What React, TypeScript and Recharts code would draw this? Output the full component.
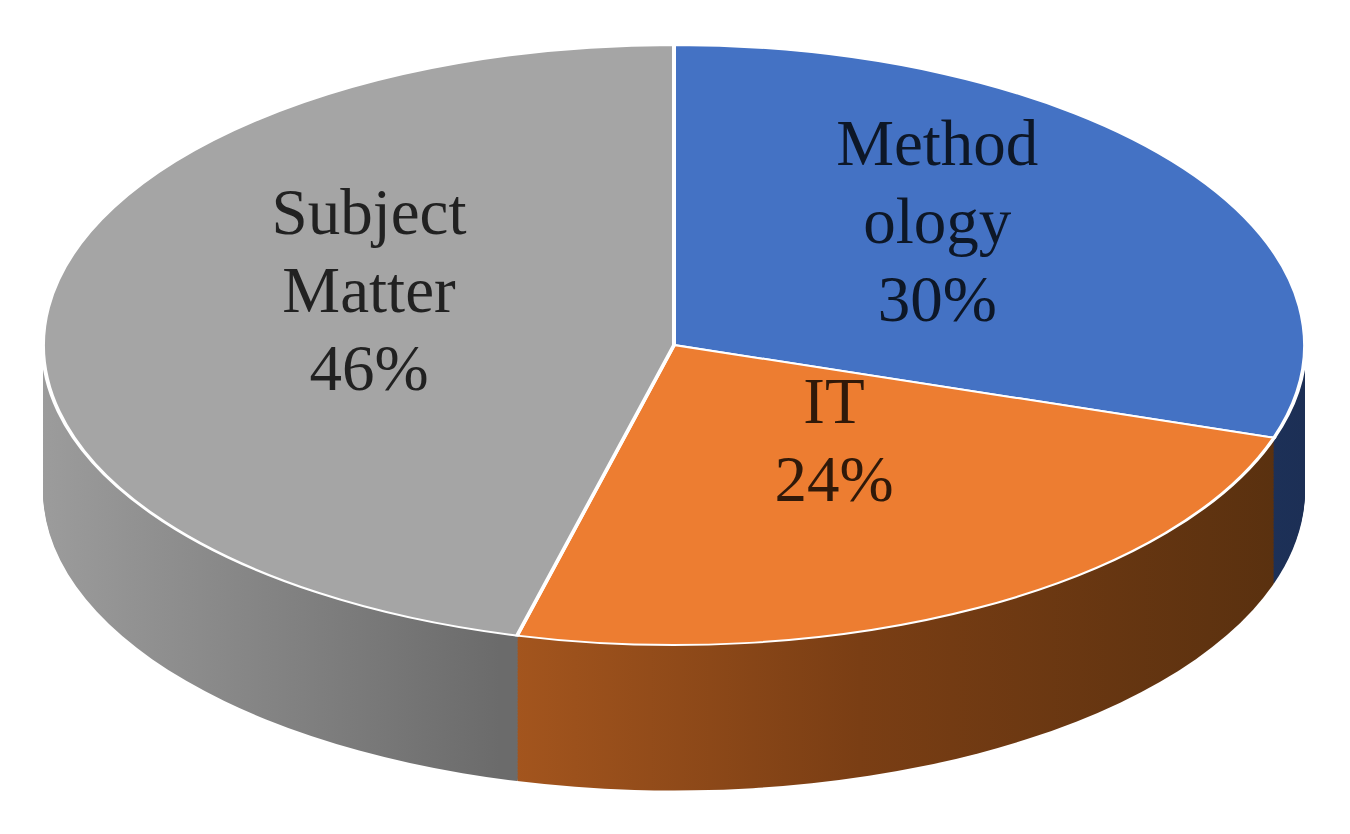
import { Cell, Pie, PieChart } from "recharts";

// data
const categories = ["Methodology", "IT", "Subject Matter"];
const shares = [30, 24, 46];
// how the category names wrap inside the slices
const labelLines = [["Method", "ology"], ["IT"], ["Subject", "Matter"]];

const TOP_COLORS = ["#4472C4", "#ED7D31", "#A5A5A5"];
const SIDE_GRADS = ["sideBlue", "sideOrange", "sideGray"];

const data = categories.map((name, i) => ({
  name,
  value: shares[i],
  lines: labelLines[i],
}));

// fake 3D: circle pie squashed vertically, with stacked copies for the rim
const W = 1350;
const CX = 674;
const RX = 631;
const RY = 300;
const K = RY / RX;
const CY = 345; // page px
const DEPTH = 145; // page px
const STEP = 1.5; // page px between rim layers
const LABEL_LIFT = -36; // page px, stands in for Excel's perspective
const FONT = 65;
const LINE_H = 78;

const cyPre = CY / K;
const H_PRE = Math.ceil((CY + DEPTH + RY + 12) / K);
const layerCount = Math.round(DEPTH / STEP);
const offsets = Array.from({ length: layerCount }, (_, i) => ((layerCount - i) * STEP) / K);

const RAD = Math.PI / 180;

function SliceLabel(props: any) {
  const { cx, cy, midAngle, outerRadius, payload, percent } = props;
  const r = outerRadius * 0.5;
  const x = cx + r * Math.cos(-midAngle * RAD) + 8;
  const y = cy + r * Math.sin(-midAngle * RAD) + LABEL_LIFT / K;
  const lines = [...(payload.lines as string[]), `${Math.round(percent * 100)}%`];
  const n = lines.length;
  return (
    <g transform={`translate(${x},${y}) scale(1,${1 / K})`}>
      <text
        textAnchor="middle"
        fontFamily="'Liberation Serif', 'Times New Roman', serif"
        fontSize={FONT}
        fill="#000"
        fillOpacity={0.8}
      >
        {lines.map((l, i) => (
          <tspan key={i} x={0} y={(i - (n - 1) / 2) * LINE_H + 22}>
            {l}
          </tspan>
        ))}
      </text>
    </g>
  );
}

export default function App() {
  return (
    <div
      style={{
        position: "fixed",
        left: 0,
        top: 0,
        width: W,
        height: 834,
        background: "#fff",
        overflow: "hidden",
      }}
    >
      <div style={{ transform: `scaleY(${K})`, transformOrigin: "0 0", width: W, height: H_PRE }}>
        <PieChart width={W} height={H_PRE} margin={{ top: 0, right: 0, bottom: 0, left: 0 }}>
          <defs>
            <linearGradient id="sideGray" gradientUnits="userSpaceOnUse" x1={40} y1={0} x2={500} y2={0}>
              <stop offset="0%" stopColor="#9c9c9c" />
              <stop offset="100%" stopColor="#6b6b6b" />
            </linearGradient>
            <linearGradient id="sideOrange" gradientUnits="userSpaceOnUse" x1={500} y1={0} x2={1300} y2={0}>
              <stop offset="0%" stopColor="#a5561e" />
              <stop offset="45%" stopColor="#7a3e14" />
              <stop offset="100%" stopColor="#58300f" />
            </linearGradient>
            <linearGradient id="sideBlue" gradientUnits="userSpaceOnUse" x1={40} y1={0} x2={1310} y2={0}>
              <stop offset="0%" stopColor="#2f5597" />
              <stop offset="100%" stopColor="#1c2f55" />
            </linearGradient>
          </defs>
          {offsets.map((off, li) => (
            <Pie
              key={`side-${li}`}
              data={data}
              dataKey="value"
              nameKey="name"
              cx={CX}
              cy={cyPre + off}
              outerRadius={RX}
              startAngle={90}
              endAngle={-270}
              stroke="none"
              label={false}
              labelLine={false}
              isAnimationActive={false}
            >
              {data.map((_, i) => (
                <Cell key={i} fill={`url(#${SIDE_GRADS[i]})`} />
              ))}
            </Pie>
          ))}
          <Pie
            data={data}
            dataKey="value"
            nameKey="name"
            cx={CX}
            cy={cyPre}
            outerRadius={RX}
            startAngle={90}
            endAngle={-270}
            stroke="#ffffff"
            strokeWidth={4}
            label={SliceLabel}
            labelLine={false}
            isAnimationActive={false}
          >
            {data.map((_, i) => (
              <Cell key={i} fill={TOP_COLORS[i]} />
            ))}
          </Pie>
        </PieChart>
      </div>
    </div>
  );
}
